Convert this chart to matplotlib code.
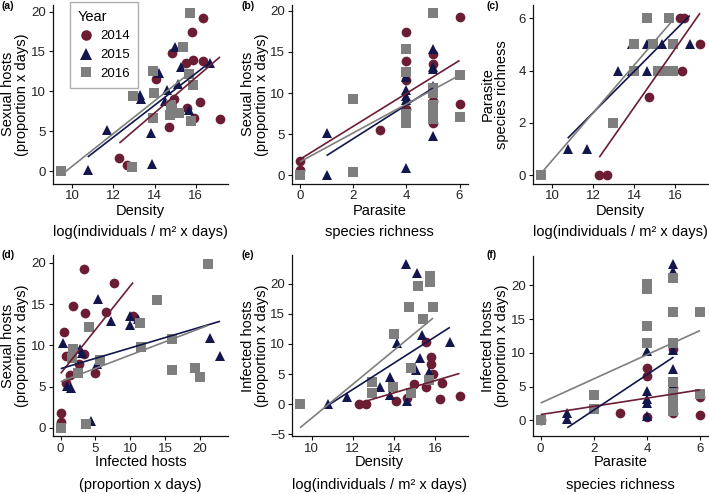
import matplotlib
matplotlib.use("Agg")
import matplotlib.pyplot as plt
from matplotlib.lines import Line2D
from matplotlib.ticker import MultipleLocator
import numpy as np

plt.rcParams['font.family'] = ['Liberation Sans', 'DejaVu Sans']

years = ["2014", "2015", "2016"]
colors = {"2014": "#6B1D33", "2015": "#12164C", "2016": "#7E7E7E"}
markers = {"2014": "o", "2015": "^", "2016": "s"}

# ---- Panel (a): density vs sexual hosts ----
a_x_2014 = [16.34, 15.84, 14.85, 15.54, 15.85, 16.34, 14.08, 14.96, 16.23, 15.9, 17.19, 14.72, 12.29, 12.65, 15.6]
a_y_2014 = [19.2, 17.4, 14.8, 13.5, 13.9, 13.8, 11.6, 9.0, 8.7, 6.7, 6.5, 5.5, 1.7, 0.75, 7.9]
a_x_2015 = [15.0, 15.3, 16.68, 14.2, 15.14, 14.63, 14.5, 13.27, 13.33, 15.66, 11.67, 13.84, 10.75, 13.87]
a_y_2015 = [15.5, 13.1, 13.5, 12.3, 10.9, 10.2, 8.8, 9.5, 9.0, 7.7, 5.2, 4.8, 0.1, 0.9]
a_x_2016 = [15.74, 15.41, 13.95, 15.70, 15.85, 13.98, 12.94, 14.81, 14.76, 15.17, 14.85, 13.92, 15.77, 12.90, 9.43]
a_y_2016 = [19.8, 15.5, 12.6, 12.2, 10.8, 9.8, 9.4, 8.3, 7.1, 7.3, 7.8, 6.7, 6.3, 0.5, 0.0]
a_fit = {"2014": (2.20, -23.5), "2015": (1.99, -19.6), "2016": (2.04, -19.75)}

# ---- Panel (b): parasite richness vs sexual hosts ----
b_x_2014 = [6, 4, 4, 4, 4, 5, 5, 5, 5, 6, 3, 0, 0]
b_y_2014 = [19.2, 17.4, 13.9, 11.6, 8.0, 14.7, 13.5, 9.0, 6.4, 8.7, 5.5, 1.7, 0.7]
b_x_2015 = [1, 1, 4, 4, 4, 4, 4, 5, 5, 5, 5, 5, 5, 5]
b_y_2015 = [5.2, 0.1, 12.0, 10.4, 9.6, 9.2, 0.9, 15.4, 13.2, 12.9, 10.9, 8.4, 7.3, 4.8]
b_x_2016 = [5, 4, 4, 4, 4, 4, 2, 2, 0, 5, 5, 5, 5, 5, 6, 6]
b_y_2016 = [19.7, 15.4, 12.6, 7.5, 7.0, 6.4, 9.3, 0.4, 0.0, 10.6, 10.0, 8.5, 7.5, 6.8, 12.2, 7.1]
b_fit = {"2014": (2.00, 1.95), "2015": (2.05, 0.35), "2016": (1.75, 1.65)}

# ---- Panel (c): density vs parasite richness ----
c_x_2014 = [16.23, 16.42, 17.2, 16.34, 14.73, 12.29, 12.65]
c_y_2014 = [6, 6, 5, 4, 3, 0, 0]
c_x_2015 = [13.87, 14.6, 15.33, 16.7, 13.22, 13.87, 14.63, 10.75, 11.7]
c_y_2015 = [5, 5, 5, 5, 4, 4, 4, 1, 1]
c_x_2016 = [14.63, 15.7, 13.98, 14.93, 15.9, 13.98, 15.17, 15.4, 15.7, 15.9, 12.94, 9.43]
c_y_2016 = [6, 6, 5, 5, 5, 4, 4, 4, 4, 4, 2, 0]
c_fit = {"2014": (1.12, -13.07), "2015": (0.787, -7.04), "2016": (0.91, -8.52)}

# ---- Panel (d): infected hosts vs sexual hosts ----
d_x_2014 = [3.4, 7.6, 1.83, 3.5, 6.5, 0.53, 0.7, 3.37, 2.6, 4.95, 1.35, 0.8, 0, 0, 10.4]
d_y_2014 = [19.3, 17.5, 14.8, 13.9, 14.05, 11.65, 8.7, 9.0, 7.7, 6.6, 6.4, 5.4, 1.75, 0.7, 13.6]
d_x_2015 = [5.3, 7.3, 10.0, 10.0, 11.06, 0.3, 2.8, 3.0, 5.2, 0.87, 1.44, 4.3, 0, 21.4, 22.9]
d_y_2015 = [15.6, 13.0, 13.5, 12.5, 13.15, 10.3, 9.5, 9.1, 7.7, 5.1, 4.8, 0.8, 0, 10.9, 8.75]
d_x_2016 = [21.1, 13.9, 4.0, 11.4, 1.73, 1.6, 5.7, 2.55, 11.5, 16.0, 16.0, 19.3, 20.0, 3.65, 0]
d_y_2016 = [19.9, 15.5, 12.2, 12.7, 9.5, 8.5, 8.2, 6.6, 9.8, 10.8, 7.05, 7.25, 6.2, 0.45, 0]
d_fit = {"2014": (1.06, 6.6), "2015": (0.251, 7.17), "2016": (0.322, 5.6)}

# ---- Panel (e): density vs infected hosts ----
e_x_2014 = [15.54, 15.82, 15.82, 15.9, 14.96, 15.58, 16.33, 16.23, 17.19, 14.08, 14.63, 12.29, 12.65]
e_y_2014 = [10.4, 7.8, 6.6, 5.0, 3.3, 2.8, 3.6, 0.9, 1.4, 0.55, 1.0, 0, 0]
e_x_2015 = [14.57, 15.14, 14.15, 15.37, 16.72, 15.28, 15.06, 15.7, 13.82, 13.33, 13.79, 14.63, 11.7, 10.78]
e_y_2015 = [23.3, 21.7, 10.2, 11.5, 10.4, 7.6, 5.6, 5.4, 4.6, 2.9, 1.55, 0.55, 1.27, 0]
e_x_2016 = [15.77, 15.77, 15.17, 14.73, 15.9, 15.41, 13.98, 14.85, 15.7, 12.94, 12.94, 13.95, 14.85, 9.43]
e_y_2016 = [21.3, 20.3, 19.6, 16.1, 16.1, 14.1, 11.7, 6.0, 4.1, 3.7, 1.8, 2.8, 1.8, 0]
e_fit = {"2014": (1.01, -12.25), "2015": (2.18, -23.7), "2016": (2.81, -30.4)}

# ---- Panel (f): parasite richness vs infected hosts ----
f_x_2014 = [4, 4, 5, 5, 5, 4, 6, 6, 3, 0]
f_y_2014 = [7.8, 6.6, 10.5, 4.8, 1.1, 0.45, 3.4, 0.85, 1.1, 0.0]
f_x_2015 = [5, 5, 5, 4, 5, 5, 4, 4, 4, 4, 1, 1]
f_y_2015 = [23.2, 22.1, 10.4, 10.2, 7.6, 5.0, 4.3, 3.1, 2.6, 0.6, 1.1, 0.25]
f_x_2016 = [4, 4, 5, 5, 6, 4, 4, 5, 5, 5, 5, 5, 5, 6, 2, 2, 0]
f_y_2016 = [20.2, 19.4, 21.1, 16.0, 16.1, 14.0, 11.5, 11.5, 5.7, 4.0, 3.0, 2.0, 1.3, 3.9, 3.7, 1.7, 0]
f_fit = {"2014": (0.61, 0.84), "2015": (2.62, -3.74), "2016": (1.79, 2.55)}

density_label = ("Density", "log(individuals / m² x days)")
richness_label = ("Parasite", "species richness")
infected_xlabel = ("Infected hosts", "(proportion x days)")
sexual_ylabel = "Sexual hosts\n(proportion x days)"
richness_ylabel = "Parasite\nspecies richness"
infected_ylabel = "Infected hosts\n(proportion x days)"

panels = [
    ("(a)", {"2014": (a_x_2014, a_y_2014), "2015": (a_x_2015, a_y_2015), "2016": (a_x_2016, a_y_2016)}, a_fit,
     density_label, sexual_ylabel, [10, 12, 14, 16], 5),
    ("(b)", {"2014": (b_x_2014, b_y_2014), "2015": (b_x_2015, b_y_2015), "2016": (b_x_2016, b_y_2016)}, b_fit,
     richness_label, sexual_ylabel, [0, 2, 4, 6], 5),
    ("(c)", {"2014": (c_x_2014, c_y_2014), "2015": (c_x_2015, c_y_2015), "2016": (c_x_2016, c_y_2016)}, c_fit,
     density_label, richness_ylabel, [10, 12, 14, 16], 2),
    ("(d)", {"2014": (d_x_2014, d_y_2014), "2015": (d_x_2015, d_y_2015), "2016": (d_x_2016, d_y_2016)}, d_fit,
     infected_xlabel, sexual_ylabel, [0, 5, 10, 15, 20], 5),
    ("(e)", {"2014": (e_x_2014, e_y_2014), "2015": (e_x_2015, e_y_2015), "2016": (e_x_2016, e_y_2016)}, e_fit,
     density_label, infected_ylabel, [10, 12, 14, 16], 5),
    ("(f)", {"2014": (f_x_2014, f_y_2014), "2015": (f_x_2015, f_y_2015), "2016": (f_x_2016, f_y_2016)}, f_fit,
     richness_label, infected_ylabel, [0, 2, 4, 6], 5),
]

W, H = 709, 494
fig = plt.figure(figsize=(W / 100, H / 100), dpi=100)

cols = [(52.7, 228.0), (292.0, 467.5), (532.7, 708.0)]
rows = [(5.0, 183.5), (255.5, 436.0)]
ylab_x = [15, 255, 495]
tag_x = [1, 241, 486]
tag_y = [6, 255]
xlab1_y = [211, 462]
xlab2_y = [232, 485]

msize = {"2014": 7.0, "2015": 7.4, "2016": 6.9}

for i, (tag, data, fit, xlab, ylab, xt, ystep) in enumerate(panels):
    r, c = divmod(i, 3)
    l, rr = cols[c]
    t, b = rows[r]
    ax = fig.add_axes([l / W, 1 - b / H, (rr - l) / W, (b - t) / H])
    allx, ally = [], []
    for yr in years:
        x, y = data[yr]
        ax.plot(x, y, linestyle='none', marker=markers[yr], color=colors[yr],
                markersize=msize[yr], markeredgewidth=0, zorder=2)
        allx += list(x)
        ally += list(y)
    for yr in years:
        x, _ = data[yr]
        s, k = fit[yr]
        xs = np.array([min(x), max(x)])
        ys = s * xs + k
        ax.plot(xs, ys, color=colors[yr], linewidth=1.2, zorder=3, solid_capstyle='butt')
        ally += list(ys)
    x0, x1 = min(allx), max(allx)
    y0, y1 = min(ally), max(ally)
    dx, dy = (x1 - x0) * 0.05, (y1 - y0) * 0.05
    ax.set_xlim(x0 - dx, x1 + dx)
    ax.set_ylim(y0 - dy, y1 + dy)
    ax.set_xticks(xt)
    ax.yaxis.set_major_locator(MultipleLocator(ystep))
    for sp in ["top", "right"]:
        ax.spines[sp].set_visible(False)
    for sp in ["left", "bottom"]:
        ax.spines[sp].set_linewidth(0.9)
        ax.spines[sp].set_color("#111111")
    ax.tick_params(axis='both', labelsize=9.5, colors="#111111", labelcolor="#222222",
                   length=3, width=0.8, pad=2)
    cx = (l + rr) / 2 / W
    fig.text(cx, 1 - xlab1_y[r] / H, xlab[0], ha='center', va='center', fontsize=10.5)
    fig.text(cx, 1 - xlab2_y[r] / H, xlab[1], ha='center', va='center', fontsize=10.5)
    fig.text(ylab_x[c] / W, 1 - ((t + b) / 2) / H, ylab, rotation=90, ha='center', va='center',
             fontsize=10.5, linespacing=1.05, multialignment='center')
    fig.text(tag_x[c] / W, 1 - tag_y[r] / H, tag, ha='left', va='center', fontsize=7.5, fontweight='bold')

    if i == 0:
        handles = [Line2D([], [], linestyle='none', marker=markers[yr], color=colors[yr],
                          markersize=msize[yr] + 0.6, markeredgewidth=0) for yr in years]
        axw = rr - l
        axh = b - t
        leg = ax.legend(handles, years, title="Year", loc='upper left',
                        bbox_to_anchor=((70 - l) / axw, (b - 1.7) / axh),
                        borderaxespad=0, fontsize=9.5, title_fontsize=10.5,
                        frameon=True, fancybox=False, edgecolor="#9a9a9a",
                        borderpad=0.6, labelspacing=0.5, handletextpad=0.5,
                        handlelength=1.2, alignment='left')
        leg.get_frame().set_linewidth(1.0)

fig.savefig("out.png", dpi=100)
